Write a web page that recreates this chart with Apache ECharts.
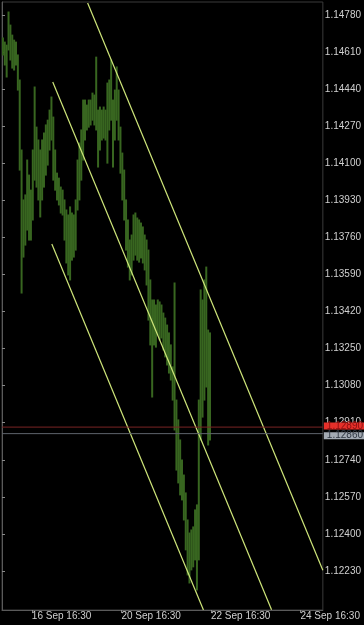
<!DOCTYPE html>
<html>
<head>
<meta charset="utf-8">
<script src="https://cdn.jsdelivr.net/npm/echarts@6/dist/echarts.min.js"></script>
<style>
html,body{margin:0;padding:0;background:#000;}
#chart{width:364px;height:625px;}
</style>
</head>
<body>
<div id="chart"></div>
<script>
// Hourly bars (trading hours counted from 16 Sep 00:30, weekend removed)
const highs = [1.14675,1.14656,1.14642,1.14794,1.14734,1.14688,1.14665,1.14656,1.14597,1.14482,
1.14161,1.13932,1.13955,1.14115,1.14046,1.13977,1.14161,1.14450,1.14266,1.14207,
1.14161,1.14207,1.14239,1.14276,1.14298,1.14344,1.14404,1.14312,1.14161,1.14055,
1.14032,1.13991,1.13977,1.13932,1.13886,1.13863,1.13900,1.13872,1.13863,1.13932,
1.14115,1.14193,1.14253,1.14390,1.14390,1.14367,1.14390,1.14390,1.14422,1.14413,
1.14587,1.14344,1.14358,1.14344,1.14358,1.14344,1.14468,1.14482,1.14574,1.14390,
1.14436,1.14542,1.14436,1.14266,1.14147,1.14069,1.13932,1.13840,1.13748,1.13771,
1.13863,1.13872,1.13849,1.13840,1.13826,1.13808,1.13771,1.13748,1.13702,1.13565,
1.13473,1.13473,1.13450,1.13473,1.13464,1.13450,1.13413,1.13390,1.13358,1.13322,
1.13267,1.13166,1.13551,1.13014,1.12923,1.12831,1.12739,1.12670,1.12588,1.12464,
1.12404,1.12418,1.12432,1.12510,1.12533,1.13014,1.13519,1.13473,1.13565,1.13624,
1.13335,1.13322];
const lows = [1.14597,1.14551,1.14496,1.14620,1.14574,1.14537,1.14528,1.14551,1.14436,1.14069,
1.13505,1.13670,1.13725,1.13794,1.13748,1.13748,1.13840,1.14023,1.13991,1.13932,
1.13854,1.13932,1.13991,1.14046,1.14092,1.14161,1.14207,1.14023,1.13977,1.13932,
1.13909,1.13872,1.13863,1.13748,1.13643,1.13588,1.13565,1.13656,1.13670,1.13702,
1.13886,1.13932,1.14023,1.14115,1.14207,1.14253,1.14266,1.14276,1.14298,1.14276,
1.14253,1.14083,1.14161,1.14207,1.14216,1.14207,1.14101,1.14253,1.14298,1.14083,
1.14207,1.14298,1.14207,1.14055,1.13932,1.13840,1.13702,1.13624,1.13565,1.13588,
1.13656,1.13679,1.13656,1.13647,1.13666,1.13643,1.13611,1.13542,1.13381,1.13267,
1.13028,1.13267,1.13257,1.13313,1.13290,1.13299,1.13244,1.13212,1.13175,1.13138,
1.13106,1.13014,1.12877,1.12693,1.12634,1.12579,1.12556,1.12464,1.12327,1.12212,
1.12175,1.12235,1.12249,1.12281,1.12143,1.12281,1.12831,1.12936,1.13014,1.13074,
1.12808,1.12831];

// Channel lines: [hour, price] endpoints
const channelUpper = [[45.9, 1.14835], [172, 1.12233]];
const channelMiddle = [[27.2, 1.14473], [144.5, 1.12052]];
const channelLower = [[26.7, 1.13730], [108.0, 1.12051]];

// Price markers
const bidPrice = 1.12890;
const refPrice = 1.12860;

// Axis ticks
const xTickValues = [16, 64, 112, 160];
const xTickLabels = ["16 Sep 16:30", "20 Sep 16:30", "22 Sep 16:30", "24 Sep 16:30"];
const yTickValues = [1.12230,1.12400,1.12570,1.12740,1.12910,1.13080,1.13250,1.13420,1.13590,1.13760,1.13930,1.14100,1.14270,1.14440,1.14610,1.14780];

const X_MIN = 0, X_MAX = 172;
const barData = highs.map((h, i) => [i + 0.5, lows[i], h]);

const chart = echarts.init(document.getElementById('chart'), null, {renderer: 'canvas'});
const FONT = "'Liberation Sans', Arial, sans-serif";

function priceLine(price, lineColor, bg, fg, z, dy) {
  return {
    type: 'line', data: [[X_MIN, price], [X_MAX, price]], symbol: 'none', z: z,
    lineStyle: {color: lineColor, width: 1},
    silent: true,
    endLabel: {
      show: true, distance: 1, offset: [0, dy], formatter: () => price.toFixed(5),
      backgroundColor: bg, color: fg, fontSize: 10, fontFamily: FONT,
      padding: [0, 3, 0, 3], lineHeight: 7, height: 7, verticalAlign: 'middle'
    }
  };
}

chart.setOption({
  backgroundColor: '#000',
  animation: false,
  grid: {left: 2, top: 2, right: 39, bottom: 15, show: true, borderColor: '#3a3a3a', borderWidth: 1, backgroundColor: '#000'},
  xAxis: {
    type: 'value', min: X_MIN, max: X_MAX,
    axisLine: {show: true, lineStyle: {color: '#5a5a5a'}},
    axisTick: {show: true, length: 3, customValues: xTickValues, lineStyle: {color: '#8a8a8a'}},
    splitLine: {show: false},
    axisLabel: {
      customValues: xTickValues, margin: 1, align: 'left',
      color: '#d0d0d0', fontSize: 10, fontFamily: FONT,
      formatter: v => { const k = xTickValues.indexOf(v); return k >= 0 ? xTickLabels[k] : ''; }
    }
  },
  yAxis: {
    type: 'value', position: 'right', min: 1.12051, max: 1.14840, scale: true,
    axisLine: {show: true, lineStyle: {color: '#5a5a5a'}},
    axisTick: {show: true, length: 3, customValues: yTickValues, lineStyle: {color: '#8a8a8a'}},
    splitLine: {show: false},
    axisLabel: {
      customValues: yTickValues, margin: 2,
      color: '#d0d0d0', fontSize: 10, fontFamily: FONT,
      formatter: v => v.toFixed(5)
    }
  },
  series: [
    {
      type: 'custom',
      data: barData,
      encode: {x: 0, y: [1, 2]},
      renderItem: (params, api) => {
        const x = api.value(0);
        const p1 = api.coord([x, api.value(1)]);
        const p2 = api.coord([x, api.value(2)]);
        return {
          type: 'line',
          shape: {x1: p1[0], y1: p1[1] + 0.5, x2: p2[0], y2: p2[1] - 0.5},
          style: {stroke: '#386620', lineWidth: 2}
        };
      },
      z: 2
    },
    {
      type: 'line', data: channelUpper, symbol: 'none',
      lineStyle: {color: '#cfe67a', width: 1.2}, z: 3
    },
    {
      type: 'line', data: channelMiddle, symbol: 'none',
      lineStyle: {color: '#cfe67a', width: 1.2}, z: 3
    },
    {
      type: 'line', data: channelLower, symbol: 'none',
      lineStyle: {color: '#cfe67a', width: 1.2}, z: 3
    },
    priceLine(bidPrice, '#7a2424', '#e5302a', '#8a1010', 4, -1),
    priceLine(refPrice, '#5e646c', '#a3aab3', '#2f3742', 5, 2)
  ]
});
</script>
</body>
</html>
